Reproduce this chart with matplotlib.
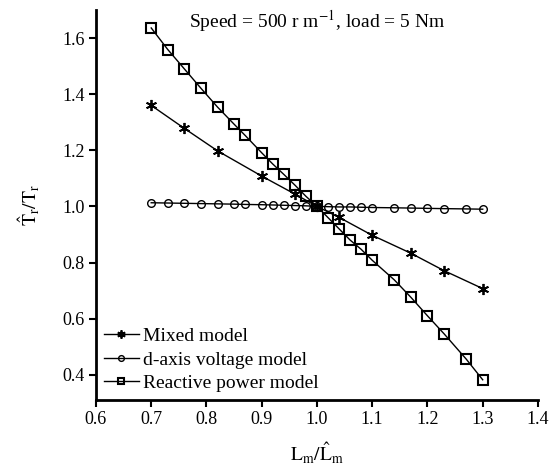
import matplotlib
matplotlib.use("Agg")
import matplotlib.pyplot as plt

plt.rcParams['font.family'] = ['Liberation Serif', 'DejaVu Serif']
plt.rcParams['mathtext.fontset'] = 'stix'

# datos
x_mixed = [0.70, 0.76, 0.82, 0.90, 0.96, 1.00, 1.04, 1.10, 1.17, 1.23, 1.30]
y_mixed = [1.360, 1.278, 1.198, 1.108, 1.044, 1.000, 0.961, 0.897, 0.833, 0.771, 0.707]

x_dq = [0.70, 0.73, 0.76, 0.79, 0.82, 0.85, 0.87, 0.90, 0.92, 0.94, 0.96, 0.98,
        1.00, 1.02, 1.04, 1.06, 1.08, 1.10, 1.14, 1.17, 1.20, 1.23, 1.27, 1.30]
y_daxis = [1.013, 1.012, 1.011, 1.010, 1.009, 1.008, 1.007, 1.006, 1.005, 1.004, 1.003, 1.002,
           1.000, 0.999, 0.998, 0.998, 0.997, 0.996, 0.995, 0.994, 0.993, 0.992, 0.991, 0.990]
y_reactive = [1.636, 1.559, 1.490, 1.421, 1.354, 1.293, 1.253, 1.191, 1.151, 1.114, 1.076, 1.036,
              1.000, 0.960, 0.920, 0.880, 0.847, 0.808, 0.738, 0.676, 0.610, 0.546, 0.456, 0.382]

xticks = [0.6, 0.7, 0.8, 0.9, 1.0, 1.1, 1.2, 1.3, 1.4]
yticks = [0.4, 0.6, 0.8, 1.0, 1.2, 1.4, 1.6]

fig = plt.figure(figsize=(5.5, 4.7), dpi=100)
ax = fig.add_axes([0.1745, 0.149, 0.8036, 0.8297])

asterisco = (6, 2, 0)
ax.plot(x_mixed, y_mixed, color='black', lw=1.0, marker=asterisco, ms=8,
        mew=1.3, label='Mixed model')
ax.plot(x_dq, y_daxis, color='black', lw=1.0, marker='o', ms=5.5,
        mfc='none', mew=1.0, label='d-axis voltage model')
ax.plot(x_dq, y_reactive, color='black', lw=1.0, marker='s', ms=6.7,
        mfc='none', mew=1.5, label='Reactive power model')

ax.set_xlim(0.6, 1.4)
ax.set_ylim(0.31, 1.70)
ax.set_xticks(xticks)
ax.set_yticks(yticks)
ax.set_xticklabels([f"{t:.1f}" for t in xticks])
ax.set_yticklabels([f"{t:.1f}" for t in yticks])
ax.tick_params(direction='out', length=5, width=1.5, labelsize=13, pad=3)

for lado in ['top', 'right']:
    ax.spines[lado].set_visible(False)
for lado in ['left', 'bottom']:
    ax.spines[lado].set_linewidth(2)

ax.set_xlabel(r'$\mathrm{L_m/\hat{L}_m}$', fontsize=14, labelpad=9)
ax.set_ylabel(r'$\mathrm{\hat{T}_r/T_r}$', fontsize=14, labelpad=15)

ax.text(1.0, 1.662, r'Speed = 500 r m$^{-1}$, load = 5 Nm', ha='center', va='center', fontsize=14)

ax.legend(loc='lower left', frameon=False, fontsize=14, handlelength=1.8,
          handletextpad=0.2, labelspacing=0.3, borderaxespad=0.0, markerscale=0.75)

fig.savefig('out.png', dpi=100)
